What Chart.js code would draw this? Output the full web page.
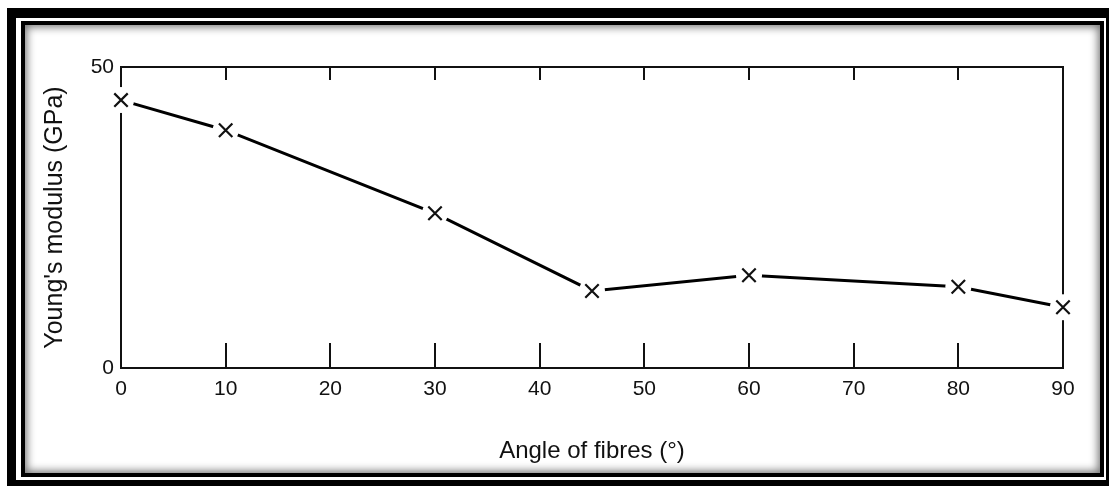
<!DOCTYPE html>
<html>
<head>
<meta charset="utf-8">
<script src="https://cdn.jsdelivr.net/npm/chart.js@4.4.1/dist/chart.umd.min.js"></script>
<style>
    body { margin: 0; width: 1109px; height: 486px; overflow: hidden; background: #fff; position: relative; }
    .frame-outer { position: absolute; left: 7px; top: 8px; right: 0; bottom: 0; background: #000; }
    .frame-gap { position: absolute; left: 16px; top: 18px; right: 3px; bottom: 6px; background: #fff; }
    .frame-inner {
        position: absolute; left: 21px; top: 21px; width: 1083px; height: 456px;
        box-sizing: border-box; border: 4px solid #000; background: #fff;
        box-shadow: inset 0 0 9px 2px rgba(0, 0, 0, 0.55);
    }
    #chart { position: absolute; left: 0; top: 0; }
</style>
</head>
<body>
<div class="frame-outer"></div>
<div class="frame-gap"></div>
<div class="frame-inner"></div>
<canvas id="chart" width="1109" height="486"></canvas>

<script>
const angles = [0, 10, 30, 45, 60, 80, 90];
const modulus = [44.5, 39.5, 25.7, 12.8, 15.4, 13.5, 10.1];
const xTicks = [0, 10, 20, 30, 40, 50, 60, 70, 80, 90];
const yTicks = [0, 50];

const ink = '#111';
const points = angles.map((a, i) => ({ x: a, y: modulus[i] }));

// box round the plot plus the inward tick marks, drawn under the data
const frameBox = {
    id: 'frameBox',
    beforeDatasetsDraw(chart) {
        const { ctx, chartArea: a, scales: { x } } = chart;
        ctx.save();
        ctx.strokeStyle = ink;
        ctx.lineWidth = 2;
        ctx.strokeRect(a.left, a.top, a.right - a.left, a.bottom - a.top);
        ctx.beginPath();
        xTicks.slice(1, -1).forEach(v => {
            const px = Math.round(x.getPixelForValue(v));
            ctx.moveTo(px, a.bottom);
            ctx.lineTo(px, a.bottom - 25);
            ctx.moveTo(px, a.top);
            ctx.lineTo(px, a.top + 13);
        });
        ctx.stroke();
        ctx.restore();
    }
};

new Chart(document.getElementById('chart').getContext('2d'), {
    type: 'line',
    data: {
        datasets: [{
            data: points,
            borderColor: '#000',
            borderWidth: 3,
            pointRadius: 0,
            tension: 0,
            order: 3
        }, {
            data: points,
            showLine: false,
            pointStyle: 'circle',
            pointRadius: 13,
            pointBackgroundColor: '#fff',
            pointBorderWidth: 0,
            order: 2
        }, {
            data: points,
            showLine: false,
            pointStyle: 'crossRot',
            pointRadius: 9.5,
            pointBorderColor: ink,
            pointBorderWidth: 2.2,
            order: 1
        }]
    },
    plugins: [frameBox],
    options: {
        responsive: false,
        animation: false,
        clip: false,
        layout: { padding: { left: 0, top: 67, right: 46, bottom: 0 } },
        plugins: {
            legend: { display: false },
            tooltip: { enabled: false }
        },
        scales: {
            x: {
                type: 'linear',
                min: 0,
                max: 90,
                afterBuildTicks: s => { s.ticks = xTicks.map(v => ({ value: v })); },
                afterFit: s => { s.height = 118; },
                grid: { display: false, drawTicks: false },
                border: { display: true, color: ink, width: 2 },
                ticks: {
                    padding: 9,
                    color: ink,
                    maxRotation: 0,
                    font: { family: 'Liberation Sans, Arial, sans-serif', size: 21 }
                },
                title: {
                    display: true,
                    text: 'Angle of fibres (°)',
                    color: ink,
                    padding: { top: 0, bottom: 20 },
                    font: { family: 'Liberation Sans, Arial, sans-serif', size: 24 }
                }
            },
            y: {
                min: 0,
                max: 50,
                afterBuildTicks: s => { s.ticks = yTicks.map(v => ({ value: v })); },
                afterFit: s => { s.width = 121; },
                grid: { display: false, drawTicks: false },
                border: { display: true, color: ink, width: 2 },
                ticks: {
                    padding: 7,
                    color: ink,
                    font: { family: 'Liberation Sans, Arial, sans-serif', size: 21 }
                },
                title: {
                    display: true,
                    text: "Young's modulus (GPa)",
                    color: ink,
                    padding: { top: 40, bottom: 0 },
                    font: { family: 'Liberation Sans, Arial, sans-serif', size: 25 }
                }
            }
        }
    }
});
</script>
</body>
</html>
